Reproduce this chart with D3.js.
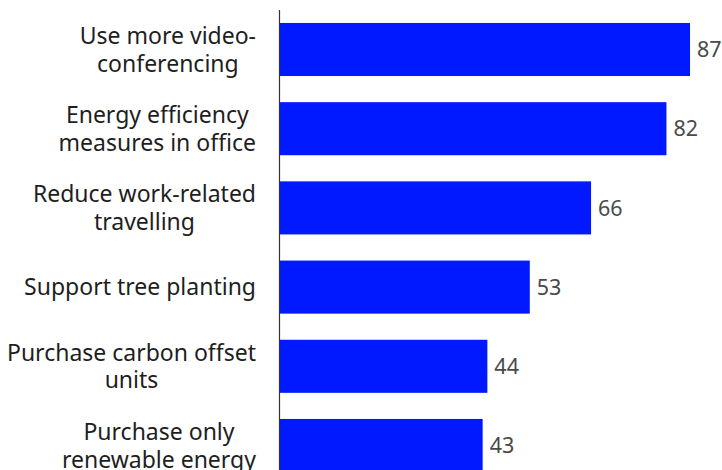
<!DOCTYPE html>
<html>
<head>
<meta charset="utf-8">
<script src="https://cdn.jsdelivr.net/npm/d3@7"></script>
<style>
  html, body { margin: 0; padding: 0; background: #fff; }
  svg { display: block; }
  text { font-family: "Noto Sans", "Open Sans", sans-serif; }
</style>
</head>
<body>
<svg id="chart" width="722" height="470"></svg>
<script>
// Survey answers: share of respondents (%) per climate action
const categories = [
  "Use more video-conferencing",
  "Energy efficiency measures in office",
  "Reduce work-related travelling",
  "Support tree planting",
  "Purchase carbon offset units",
  "Purchase only renewable energy"
];
const labelLines = [
  ["Use more video-", "conferencing"],
  ["Energy efficiency", "measures in office"],
  ["Reduce work-related", "travelling"],
  ["Support tree planting"],
  ["Purchase carbon offset", "units"],
  ["Purchase only", "renewable energy"]
];
const values = [87, 82, 66, 53, 44, 43];

const W = 722, H = 470;
const axisX = 280;
const labelRight = 256;
const labelSize = 23;
const valueSize = 21.5;
const lineGap = 27.5;

const svg = d3.select("#chart");

const x = d3.scaleLinear().domain([0, 100]).range([axisX, axisX + 471.3]);
const y = d3.scaleBand()
  .domain(categories)
  .range([9.9, 485.1])
  .paddingInner(0.33)
  .paddingOuter(0.165);

// bars
svg.append("g")
  .selectAll("rect")
  .data(values)
  .join("rect")
  .attr("x", x(0))
  .attr("y", (d, i) => y(categories[i]))
  .attr("width", d => x(d) - x(0))
  .attr("height", y.bandwidth())
  .attr("fill", "#0019ff");

// value labels
svg.append("g")
  .selectAll("text")
  .data(values)
  .join("text")
  .attr("x", d => x(d) + 7)
  .attr("y", (d, i) => y(categories[i]) + y.bandwidth() / 2)
  .attr("dy", "0.36em")
  .attr("font-size", valueSize)
  .attr("fill", "#4a4a4a")
  .text(d => d);

// category labels: each block right-aligned, lines centred within the block
const lab = svg.append("g");
categories.forEach((c, i) => {
  const lines = labelLines[i];
  const g = lab.append("g");
  const cy = y(c) + y.bandwidth() / 2;
  const ts = lines.map((ln, j) => g.append("text")
    .attr("y", cy + (j - (lines.length - 1) / 2) * lineGap)
    .attr("dy", "0.36em")
    .attr("font-size", labelSize)
    .attr("fill", "#1e1e1e")
    .attr("text-anchor", "middle")
    .text(ln));
  const maxW = d3.max(ts, t => t.node().getComputedTextLength());
  ts.forEach(t => t.attr("x", labelRight - maxW / 2));
});

// vertical axis line
svg.append("line")
  .attr("x1", axisX - 0.5).attr("x2", axisX - 0.5)
  .attr("y1", 10).attr("y2", H)
  .attr("stroke", "#333")
  .attr("stroke-width", 1.2);
</script>
</body>
</html>
